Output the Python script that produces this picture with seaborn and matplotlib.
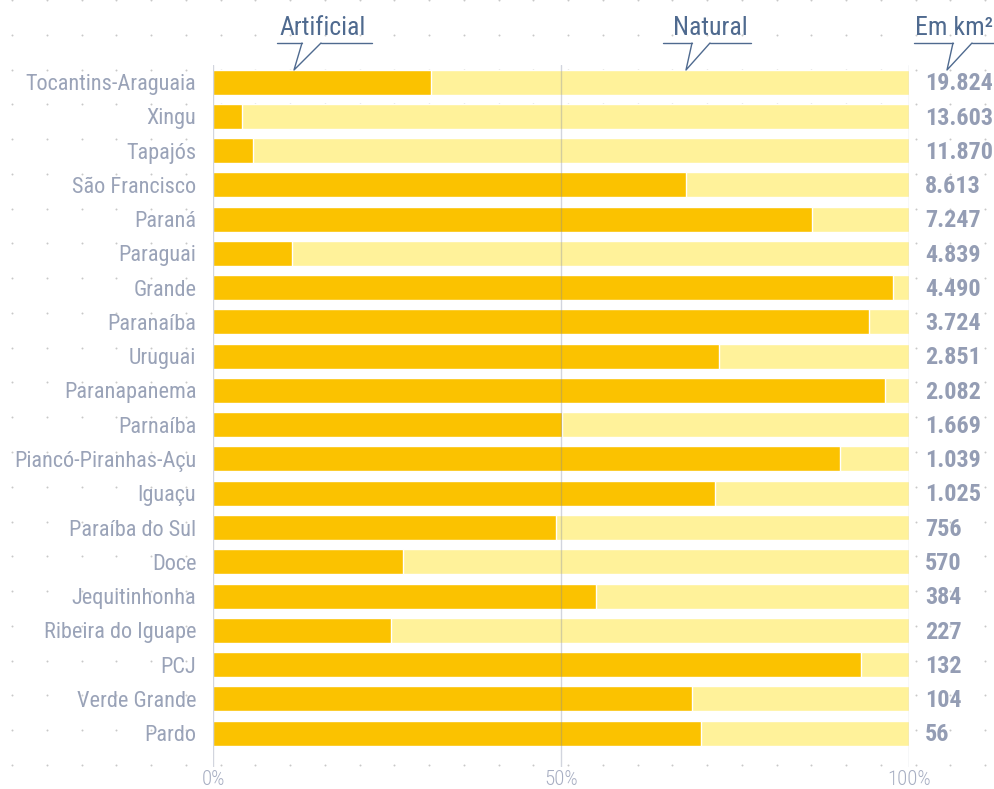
import matplotlib
matplotlib.use("Agg")
import matplotlib.pyplot as plt
from matplotlib.lines import Line2D
from matplotlib import font_manager
import seaborn as sns
import pandas as pd
import numpy as np

basins = ["Tocantins-Araguaia", "Xingu", "Tapajós", "São Francisco", "Paraná",
          "Paraguai", "Grande", "Paranaíba", "Uruguai", "Paranapanema",
          "Parnaíba", "Piancó-Piranhas-Açu", "Iguaçu", "Paraíba do Sul", "Doce",
          "Jequitinhonha", "Ribeira do Iguape", "PCJ", "Verde Grande", "Pardo"]
artificial_pct = [31.3, 4.2, 5.7, 68.0, 86.1, 11.4, 97.7, 94.3, 72.7, 96.6,
                  50.1, 90.1, 72.1, 49.3, 27.3, 55.0, 25.6, 93.1, 68.8, 70.1]
area_km2 = ["19.824", "13.603", "11.870", "8.613", "7.247", "4.839", "4.490",
            "3.724", "2.851", "2.082", "1.669", "1.039", "1.025", "756", "570",
            "384", "227", "132", "104", "56"]
xticks = [0, 50, 100]
xtick_labels = ["0%", "50%", "100%"]

df = pd.DataFrame({"basin": basins, "artificial": artificial_pct,
                   "total": [100.0] * len(basins)})

sns.set_theme(style="white")
installed = {f.name for f in font_manager.fontManager.ttflist}
main_font = "DejaVu Sans"
for cand in ["Roboto Condensed", "Liberation Sans Narrow", "Open Sans Condensed",
             "Noto Sans Condensed", "Roboto", "Liberation Sans"]:
    if cand in installed:
        main_font = cand
        break
FONT = [main_font, "DejaVu Sans"]
plt.rcParams["font.family"] = FONT

W, H = 995, 789
fig = plt.figure(figsize=(W / 100, H / 100), dpi=100)
fig.patch.set_facecolor("white")
renderer = fig.canvas.get_renderer()


def fit(text_obj, target_w):
    w = text_obj.get_window_extent(renderer=renderer).width
    text_obj.set_fontsize(text_obj.get_fontsize() * target_w / w)


# background dot grid
bg = fig.add_axes([0, 0, 1, 1], zorder=0)
bg.set_xlim(0, W)
bg.set_ylim(H, 0)
bg.axis("off")
gx = np.arange(12, W, 34.75)
gy = np.arange(0, H, 34.77)
GX, GY = np.meshgrid(gx, gy)
bg.scatter(GX.ravel(), GY.ravel(), s=2.0, color="#C8C8C8", linewidths=0)

# main axes
left, right = 213, 909
top, bottom = 65, 767
ax = fig.add_axes([left / W, 1 - bottom / H, (right - left) / W, (bottom - top) / H], zorder=1)
ax.patch.set_alpha(0)

DARK = "#FBC200"
LIGHT = "#FFF29A"
sns.barplot(data=df, y="basin", x="total", color=LIGHT, orient="h",
            width=0.73, ax=ax, saturation=1)
sns.barplot(data=df, y="basin", x="artificial", color=DARK, orient="h",
            width=0.73, ax=ax, saturation=1)

unit = 34.26
ax.set_xlim(0, 100)
ax.set_ylim(-0.5 + (bottom - top) / unit, -0.5)

for xv in xticks:
    ax.axvline(xv, color="#7F88A3", alpha=0.35, lw=1.0, zorder=5)

for s in ax.spines.values():
    s.set_visible(False)
ax.set_xlabel("")
ax.set_ylabel("")
ax.set_xticks(xticks)
ax.set_xticklabels(xtick_labels)
ax.tick_params(axis="x", length=0, pad=2, labelsize=15, labelcolor="#A7AEC2")
ax.tick_params(axis="y", length=0, pad=12)

ylabs = ax.get_yticklabels()
for t in ylabs:
    t.set_color("#9AA3B8")
    t.set_fontsize(14)
fig.canvas.draw()
for t in ax.get_xticklabels():
    t.set_fontweight("light")
w0 = ylabs[0].get_window_extent(renderer=renderer).width
ysize = 14 * 172 / w0
for t in ax.get_yticklabels():
    t.set_fontsize(ysize)

num_texts = []
for i, v in enumerate(area_km2):
    num_texts.append(ax.text(100 + (925 - 909) / (right - left) * 100, i + 0.05, v,
                             ha="left", va="center", fontsize=16,
                             fontweight="bold", color="#949DB4", clip_on=False))
w1 = num_texts[0].get_window_extent(renderer=renderer).width
nsize = 16 * 68 / w1
for t in num_texts:
    t.set_fontsize(nsize)

# header callouts (figure pixel coords)
HC = "#4F6A8F"


def fig_line(xs, ys):
    fig.add_artist(Line2D([x / W for x in xs], [1 - y / H for y in ys],
                          color=HC, lw=1.0, transform=fig.transFigure))


def callout(hx0, hx1, n0, n1, tip):
    fig_line([hx0, n0], [43, 43])
    fig_line([n1, hx1], [43, 43])
    fig_line([n0, tip, n1], [43, 70, 43])


callout(277, 372, 302, 321, 294)
callout(663, 751, 692, 710, 686)
callout(914, 995, 953, 972, 947)

h1 = fig.text(323 / W, 1 - 28 / H, "Artificial", ha="center", va="center",
              fontsize=17, color=HC)
fit(h1, 87)
hs = h1.get_fontsize()
fig.text(710 / W, 1 - 28 / H, "Natural", ha="center", va="center",
         fontsize=hs, color=HC)
fig.text(993 / W, 1 - 28 / H, "Em km²", ha="right", va="center",
         fontsize=hs, color=HC)

fig.savefig("out.png", dpi=100)
